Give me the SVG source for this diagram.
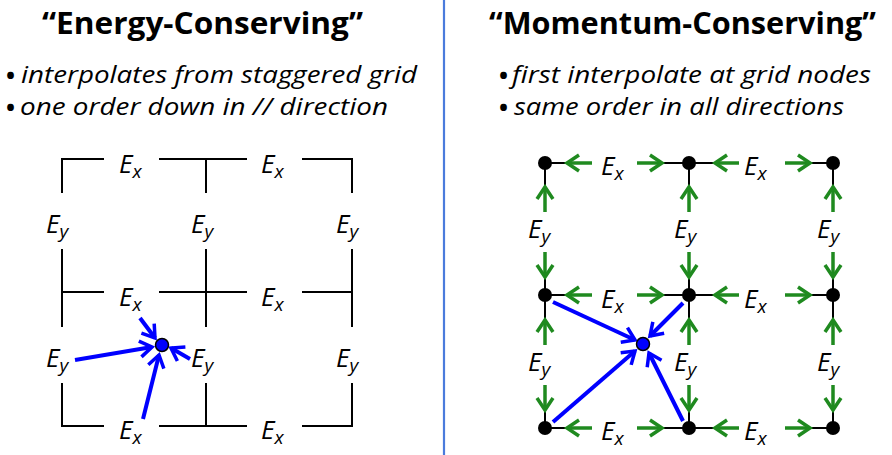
<svg xmlns="http://www.w3.org/2000/svg" width="892" height="455" viewBox="0 0 892 455">
<style>
.title{font-family:"Open Sans","Noto Sans",sans-serif;font-weight:bold;font-size:30px;fill:#000}
.bul{font-family:"Open Sans","Noto Sans",sans-serif;font-size:24px;font-weight:bold;fill:#000}
.it{font-family:"Open Sans","Noto Sans",sans-serif;font-style:italic;font-size:24px;fill:#000}
.lab{font-family:"Open Sans","Noto Sans",sans-serif;font-style:italic;font-size:26px;fill:#000}
.sub{font-size:19px}
.grid{stroke:#000;stroke-width:2;fill:none}
.blue{stroke:#0000ff;stroke-width:4;fill:none;marker-end:url(#bh)}
.green{stroke:#1f8a1f;stroke-width:3.5;fill:none;marker-end:url(#gh)}
.node{fill:#000}
.dot{fill:#0000ff;stroke:#000;stroke-width:1.5}
</style>
<defs>
<marker id="bh" markerUnits="userSpaceOnUse" markerWidth="30" markerHeight="30" viewBox="-15 -15 30 30" refX="0" refY="0" orient="auto" overflow="visible">
<path d="M-12,-8 L0,0 L-12,8" fill="none" stroke="#0000ff" stroke-width="3.5"/>
</marker>
<marker id="gh" markerUnits="userSpaceOnUse" markerWidth="30" markerHeight="30" viewBox="-15 -15 30 30" refX="0" refY="0" orient="auto" overflow="visible">
<path d="M-12,-8 L0,0 L-12,8" fill="none" stroke="#1f8a1f" stroke-width="3.5"/>
</marker>
</defs>
<rect width="892" height="455" fill="#fff"/>
<line x1="444" y1="0" x2="444" y2="455" stroke="#4a7bdc" stroke-width="2.2"/>

<g id="title-left"><text class="title" x="42" y="34" textLength="321" lengthAdjust="spacingAndGlyphs">“Energy-Conserving”</text></g>
<g id="title-right"><text class="title" x="489" y="34" textLength="387" lengthAdjust="spacingAndGlyphs">“Momentum-Conserving”</text></g>

<g id="bullets-left">
<text class="bul" x="6" y="84">•</text><text class="it" x="21" y="83" textLength="396" lengthAdjust="spacingAndGlyphs">interpolates from staggered grid</text>
<text class="bul" x="6" y="116">•</text><text class="it" x="20" y="115" textLength="368" lengthAdjust="spacingAndGlyphs">one order down in // direction</text>
</g>
<g id="bullets-right">
<text class="bul" x="499" y="84">•</text><text class="it" x="512" y="83" textLength="359" lengthAdjust="spacingAndGlyphs">first interpolate at grid nodes</text>
<text class="bul" x="499" y="116">•</text><text class="it" x="514" y="115" textLength="330" lengthAdjust="spacingAndGlyphs">same order in all directions</text>
</g>

<g id="left-grid" class="grid">
<path d="M62,193 V159 H104 M159,159 H247 M302,159 H352 V193 M206,159 V193"/>
<path d="M62,249 V327 M206,249 V327 M352,249 V327 M62,292 H104 M159,292 H247 M302,292 H352"/>
<path d="M62,383 V426 H104 M159,426 H247 M302,426 H352 V383 M206,426 V383"/>
</g>
<g id="left-ex-1"><text class="lab" x="119" y="173">E<tspan class="sub" dy="5">x</tspan></text></g>
<g id="left-ex-2"><text class="lab" x="261" y="173">E<tspan class="sub" dy="5">x</tspan></text></g>
<g id="left-ex-3"><text class="lab" x="119" y="306">E<tspan class="sub" dy="5">x</tspan></text></g>
<g id="left-ex-4"><text class="lab" x="261" y="306">E<tspan class="sub" dy="5">x</tspan></text></g>
<g id="left-ex-5"><text class="lab" x="119" y="439">E<tspan class="sub" dy="5">x</tspan></text></g>
<g id="left-ex-6"><text class="lab" x="261" y="439">E<tspan class="sub" dy="5">x</tspan></text></g>
<g id="left-ey-1"><text class="lab" x="46" y="233">E<tspan class="sub" dy="5">y</tspan></text></g>
<g id="left-ey-2"><text class="lab" x="191" y="233">E<tspan class="sub" dy="5">y</tspan></text></g>
<g id="left-ey-3"><text class="lab" x="336" y="233">E<tspan class="sub" dy="5">y</tspan></text></g>
<g id="left-ey-4"><text class="lab" x="46" y="367">E<tspan class="sub" dy="5">y</tspan></text></g>
<g id="left-ey-5"><text class="lab" x="191" y="367">E<tspan class="sub" dy="5">y</tspan></text></g>
<g id="left-ey-6"><text class="lab" x="336" y="367">E<tspan class="sub" dy="5">y</tspan></text></g>

<g id="right-grid" class="grid">
<path d="M545,163 H567 M662,163 H715 M810,163 H833"/>
<path d="M545,295 H567 M662,295 H715 M810,295 H833"/>
<path d="M545,428 H567 M662,428 H715 M810,428 H833"/>
<path d="M545,163 V187 M545,277 V320 M545,410 V428"/>
<path d="M689,163 V187 M689,277 V320 M689,410 V428"/>
<path d="M833,163 V187 M833,277 V320 M833,410 V428"/>
</g>
<g id="right-ex-1"><text class="lab" x="601" y="175">E<tspan class="sub" dy="5">x</tspan></text></g>
<g id="right-ex-2"><text class="lab" x="744" y="175">E<tspan class="sub" dy="5">x</tspan></text></g>
<g id="right-ex-3"><text class="lab" x="601" y="308">E<tspan class="sub" dy="5">x</tspan></text></g>
<g id="right-ex-4"><text class="lab" x="744" y="308">E<tspan class="sub" dy="5">x</tspan></text></g>
<g id="right-ex-5"><text class="lab" x="601" y="440">E<tspan class="sub" dy="5">x</tspan></text></g>
<g id="right-ex-6"><text class="lab" x="744" y="440">E<tspan class="sub" dy="5">x</tspan></text></g>
<g id="right-ey-1"><text class="lab" x="528" y="238">E<tspan class="sub" dy="5">y</tspan></text></g>
<g id="right-ey-2"><text class="lab" x="674" y="238">E<tspan class="sub" dy="5">y</tspan></text></g>
<g id="right-ey-3"><text class="lab" x="817" y="238">E<tspan class="sub" dy="5">y</tspan></text></g>
<g id="right-ey-4"><text class="lab" x="528" y="371">E<tspan class="sub" dy="5">y</tspan></text></g>
<g id="right-ey-5"><text class="lab" x="674" y="371">E<tspan class="sub" dy="5">y</tspan></text></g>
<g id="right-ey-6"><text class="lab" x="817" y="371">E<tspan class="sub" dy="5">y</tspan></text></g>

<g id="connectors">
<path class="green" d="M592,163 H567"/><path class="green" d="M637,163 H662"/>
<path class="green" d="M739,163 H715"/><path class="green" d="M785,163 H810"/>
<path class="green" d="M592,295 H567"/><path class="green" d="M637,295 H662"/>
<path class="green" d="M739,295 H715"/><path class="green" d="M785,295 H810"/>
<path class="green" d="M592,428 H567"/><path class="green" d="M637,428 H662"/>
<path class="green" d="M739,428 H715"/><path class="green" d="M785,428 H810"/>
<path class="green" d="M545,212 V187"/><path class="green" d="M545,252 V277"/>
<path class="green" d="M545,345 V320"/><path class="green" d="M545,385 V410"/>
<path class="green" d="M689,212 V187"/><path class="green" d="M689,252 V277"/>
<path class="green" d="M689,345 V320"/><path class="green" d="M689,385 V410"/>
<path class="green" d="M833,212 V187"/><path class="green" d="M833,252 V277"/>
<path class="green" d="M833,345 V320"/><path class="green" d="M833,385 V410"/>
<path class="blue" d="M75,360 L152,347"/>
<path class="blue" d="M143,419 L159,355"/>
<path class="blue" d="M140,318 L155,338"/>
<path class="blue" d="M190,359 L171,348"/>
<path class="blue" d="M553,302 L635,340"/>
<path class="blue" d="M683,303 L650,336"/>
<path class="blue" d="M553,422 L635,351"/>
<path class="blue" d="M683,421 L649,353"/>
</g>

<g id="left-target"><circle class="dot" cx="162" cy="345" r="6.5"/></g>
<g id="right-nodes">
<circle class="node" cx="545" cy="163" r="7"/><circle class="node" cx="689" cy="163" r="7"/><circle class="node" cx="833" cy="163" r="7"/>
<circle class="node" cx="545" cy="295" r="7"/><circle class="node" cx="689" cy="295" r="7"/><circle class="node" cx="833" cy="295" r="7"/>
<circle class="node" cx="545" cy="428" r="7"/><circle class="node" cx="689" cy="428" r="7"/><circle class="node" cx="833" cy="428" r="7"/>
</g>
<g id="right-target"><circle class="dot" cx="643" cy="344" r="6.5"/></g>
</svg>
